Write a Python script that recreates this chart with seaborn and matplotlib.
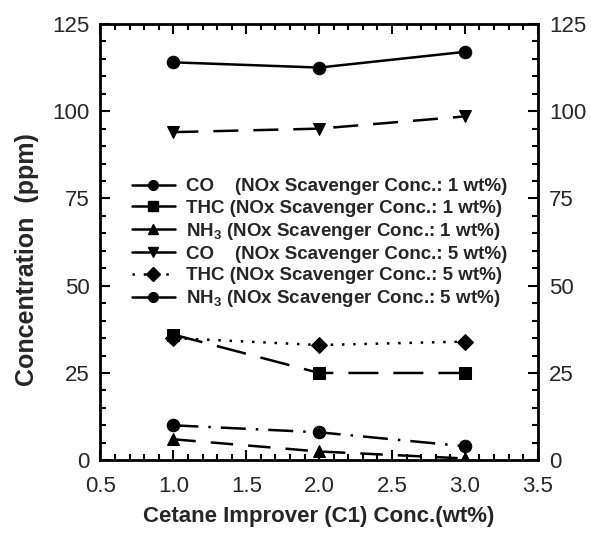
import matplotlib
matplotlib.use("Agg")
import matplotlib.pyplot as plt
from matplotlib.ticker import MultipleLocator
from matplotlib.lines import Line2D
import seaborn as sns
import pandas as pd

sns.set_theme(style="white")
plt.rcParams['font.family'] = ['Liberation Sans', 'DejaVu Sans']
plt.rcParams['mathtext.fontset'] = 'custom'
plt.rcParams['mathtext.rm'] = 'Liberation Sans:bold'
plt.rcParams['mathtext.bf'] = 'Liberation Sans:bold'
plt.rcParams['mathtext.default'] = 'bf'

cetane = [1.0, 2.0, 3.0]
co_1 = [114, 112.5, 117]
thc_1 = [36, 25, 25]
nh3_1 = [6, 2.5, 0.5]
co_5 = [94, 95, 98.5]
thc_5 = [35, 33, 34]
nh3_5 = [10, 8, 4]

labels = [
    "CO    (NOx Scavenger Conc.: 1 wt%)",
    "THC (NOx Scavenger Conc.: 1 wt%)",
    "NH$_3$ (NOx Scavenger Conc.: 1 wt%)",
    "CO    (NOx Scavenger Conc.: 5 wt%)",
    "THC (NOx Scavenger Conc.: 5 wt%)",
    "NH$_3$ (NOx Scavenger Conc.: 5 wt%)",
]
series = [co_1, thc_1, nh3_1, co_5, thc_5, nh3_5]
markers = ['o', 's', '^', 'v', 'D', 'o']
msizes = [9, 8, 8, 8, 8, 9]
styles = ['-', (0, (12, 6)), (0, (9, 6)), (0, (10, 6)), (0, (1, 3.5)), (0, (10, 4, 1, 4))]
legend_styles = ['-', '-', '-', '-', (0, (1, 3.5)), '-']

fig = plt.figure(figsize=(5.91, 5.44), dpi=100)
ax = fig.add_axes([0.17, 0.154, 0.74, 0.802])

for vals, lab, mk, ms, ls in zip(series, labels, markers, msizes, styles):
    df = pd.DataFrame({"x": cetane, "y": vals})
    sns.lineplot(data=df, x="x", y="y", ax=ax, color="black", marker=mk,
                 markersize=ms, markeredgecolor="black", linewidth=1.8,
                 linestyle=ls, legend=False)

ax.set_xlim(0.5, 3.5)
ax.set_ylim(0, 125)
ax.xaxis.set_major_locator(MultipleLocator(0.5))
ax.xaxis.set_minor_locator(MultipleLocator(0.1))
ax.yaxis.set_major_locator(MultipleLocator(25))
ax.yaxis.set_minor_locator(MultipleLocator(5))
ax.tick_params(which='both', direction='in', top=True, right=True, bottom=True, left=True,
               labelsize=16, color='black', width=1.5)
ax.tick_params(which='major', length=7, pad=8)
ax.tick_params(axis='x', which='major', pad=11)
ax.tick_params(which='minor', length=4)
ax.tick_params(axis='y', labelright=True)
for sp in ax.spines.values():
    sp.set_color('black')
    sp.set_linewidth(2)

ax.set_xlabel("Cetane Improver (C1) Conc.(wt%)", fontsize=16, fontweight='bold', labelpad=7)
ax.set_ylabel("Concentration  (ppm)", fontsize=18, fontweight='bold', labelpad=8)
ax.yaxis.set_label_coords(-0.14, 0.46)

handles = [Line2D([], [], color='black', marker=mk, markersize=7, linewidth=1.8, linestyle=ls)
           for mk, ls in zip(markers, legend_styles)]
leg = ax.legend(handles, labels, loc='upper left', bbox_to_anchor=(0.033, 0.685), frameon=False,
                handlelength=2.3, handletextpad=0.6, labelspacing=0.22,
                prop={'family': 'Liberation Sans', 'weight': 'bold', 'size': 13.5})

fig.savefig("out.png", dpi=100)
